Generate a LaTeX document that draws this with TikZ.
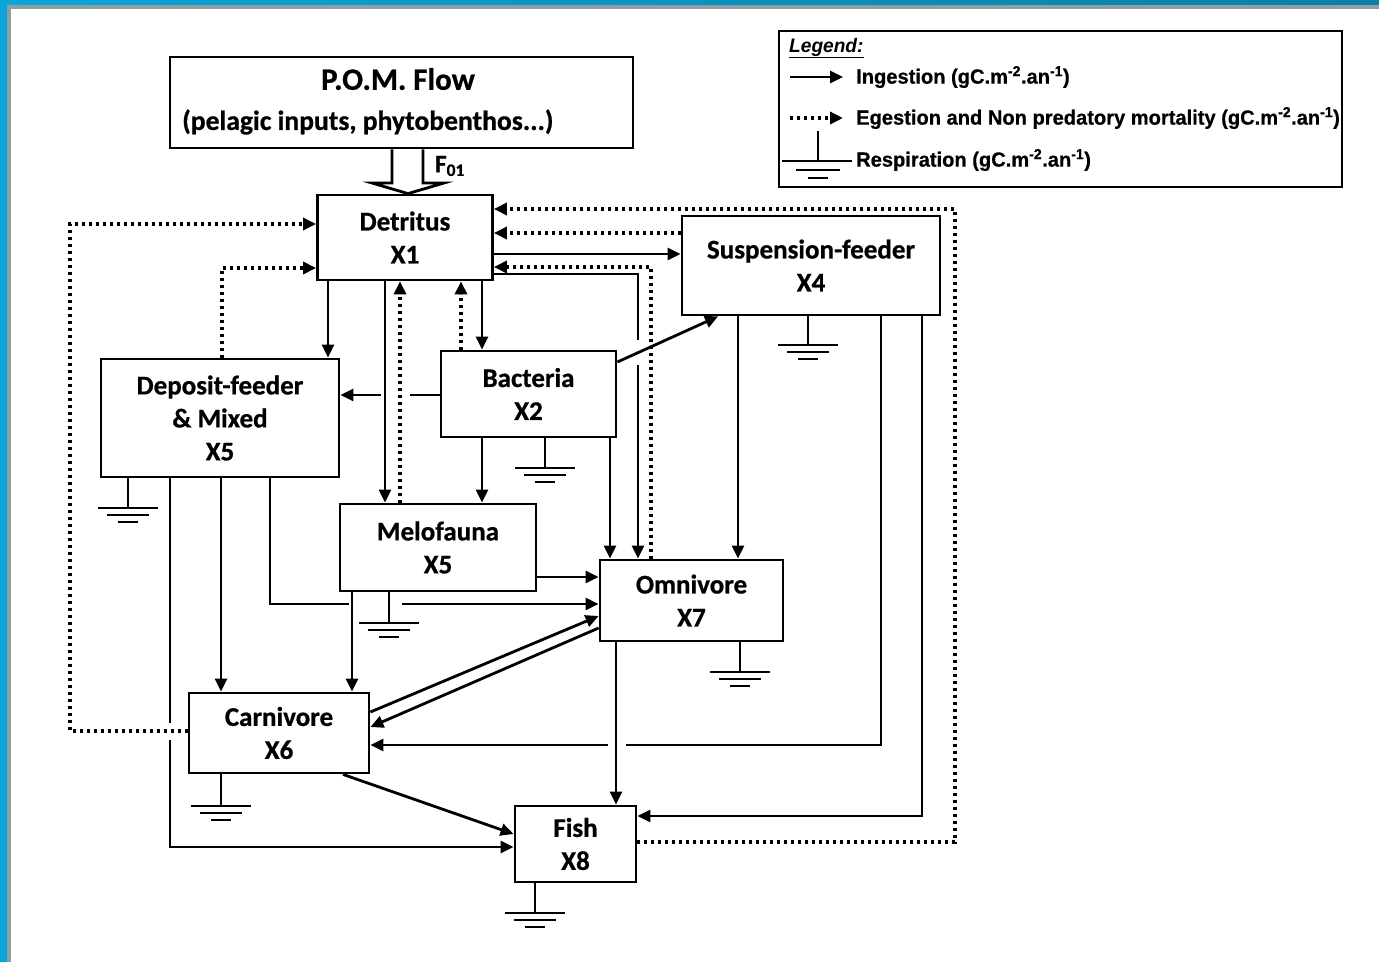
\documentclass[tikz,border=0pt]{standalone}
\usepackage{fontspec}
\setmainfont{Carlito}[BoldFeatures={FakeBold=0.7}]
\newfontfamily\legfont{Liberation Sans}[FakeStretch=0.98, BoldFeatures={FakeBold=0.6}]
\usetikzlibrary{arrows.meta}
\definecolor{frameblue}{HTML}{0AA6D8}
\definecolor{framedark}{HTML}{0A7FA8}
\definecolor{framegray}{HTML}{8E9EA3}
\begin{document}
\begin{tikzpicture}[x=1pt,y=-1pt,
 box/.style={draw, line width=2.8pt, inner sep=0pt, align=center, font=\fontsize{27}{33}\selectfont\bfseries},
 ing/.style={draw, line width=2.8pt, -{Triangle[length=13pt,width=12pt]}},
 egs/.style={draw, line width=3.3pt, dash pattern=on 3pt off 4pt, -{Triangle[length=13pt,width=12pt]}},
 legtxt/.style={anchor=west, inner sep=0pt, font=\legfont\bfseries\fontsize{20.5}{22}\selectfont},
 gnd/.pic={\draw[line width=2.8pt] (-30,0)--(30,0) (-21,7)--(21,7) (-10,14)--(10,14);}
]
\useasboundingbox (0,0) rectangle (1379,962);
% frame
\shade[left color=frameblue, right color=framedark] (0,0) rectangle (1379,8);
\fill[frameblue] (0,0) rectangle (8,962);
\fill[framegray] (7,5) rectangle (1379,962);
\fill[white] (11,9) rectangle (1379,962);

% boxes
\node[box, minimum width=463pt, minimum height=91pt] (pom) at (401.5,102.5) {};
\node[font=\fontsize{31}{31}\selectfont\bfseries] (pomt) at (398,79) {P.O.M. Flow};
\node[anchor=west, inner sep=0pt, font=\fontsize{27.6}{28}\selectfont\bfseries] (poms) at (182,122) {(pelagic inputs, phytobenthos...)};
\node[box, minimum width=175pt, minimum height=85pt] (det) at (405,237.5) {Detritus\\X1};
\node[box, minimum width=258pt, minimum height=99pt] (sus) at (811,265.5) {Suspension-feeder\\X4};
\node[box, minimum width=175pt, minimum height=86pt] (bac) at (528.5,394) {Bacteria\\X2};
\node[box, minimum width=238pt, minimum height=118pt] (dep) at (220,418) {Deposit-feeder\\\& Mixed\\X5};
\node[box, minimum width=196pt, minimum height=87pt] (mei) at (438,547.5) {Melofauna\\X5};
\node[box, minimum width=183pt, minimum height=81pt] (omn) at (691.5,600.5) {Omnivore\\X7};
\node[box, minimum width=180pt, minimum height=80pt] (car) at (279,733) {Carnivore\\X6};
\node[box, minimum width=121pt, minimum height=76pt] (fish) at (575.5,844) {Fish\\X8};

% POM flow
\draw[line width=2.8pt, fill=white] (pom.south -| 392,0) -- (392,183) -- (372,183) -- (det.north -| 408,0) -- (444,183) -- (423,183) -- (pom.south -| 423,0);
\node[font=\fontsize{25}{25}\selectfont\bfseries] (flab) at (450,166) {F\textsubscript{01}};

% Detritus links
\draw[ing] (det.south -| 328,0) -- (dep.north -| 328,0);
\draw[ing] (det.south -| 385,0) -- (mei.north -| 385,0);
\draw[egs] (mei.north -| 400,0) -- (det.south -| 400,0);
\draw[egs] (bac.north -| 461,0) -- (det.south -| 461,0);
\draw[ing] (det.south -| 482,0) -- (bac.north -| 482,0);
\draw[ing] (det.east |- 0,254) -- (sus.west |- 0,254);
\draw[egs] (sus.west |- 0,233) -- (det.east |- 0,233);
\draw[egs] (fish.east |- 0,842) -- (955,842) -- (955,209) -- (det.east |- 0,209);
\draw[egs] (omn.north -| 651,0) -- (651,267) -- (det.east |- 0,267);
\draw[ing] (det.east |- 0,274) -- (638,274) -- (638,340) (638,365) -- (omn.north -| 638,0);
\draw[egs] (car.west |- 0,731) -- (70,731) -- (70,224) -- (det.west |- 0,224);
\draw[egs] (dep.north -| 222,0) -- (222,268) -- (det.west |- 0,268);

% Bacteria links
\draw[ing] (bac.west |- 0,395) -- (410,395) (381,395) -- (dep.east |- 0,395);
\draw[ing] (bac.south -| 482,0) -- (mei.north -| 482,0);
\draw[ing] (bac.east |- 0,362) -- (sus.south -| 718,0);
\draw[ing] (bac.south -| 610,0) -- (omn.north -| 610,0);

% Suspension-feeder links
\draw[ing] (sus.south -| 738,0) -- (omn.north -| 738,0);
\draw[ing] (sus.south -| 881,0) -- (881,745) -- (626,745) (608,745) -- (car.east |- 0,745);
\draw[ing] (sus.south -| 922,0) -- (922,816) -- (fish.east |- 0,816);

% Meiofauna and deposit links
\draw[ing] (mei.east |- 0,577) -- (omn.west |- 0,577);
\draw[ing] (dep.south -| 270,0) -- (270,604) -- (349,604) (402,604) -- (omn.west |- 0,604);
\draw[ing] (mei.south -| 352,0) -- (car.north -| 352,0);
\draw[ing] (dep.south -| 221,0) -- (car.north -| 221,0);
\draw[ing] (dep.south -| 170,0) -- (170,723) (170,740) -- (170,847) -- (fish.west |- 0,847);

% Omnivore / carnivore / fish
\draw[ing] (car.east |- 0,712) -- (omn.west |- 0,616);
\draw[ing] (omn.west |- 0,628) -- (car.east |- 0,727);
\draw[ing] (car.south -| 343,0) -- (fish.west |- 0,834);
\draw[ing] (omn.south -| 616,0) -- (fish.north -| 616,0);

% respiration
\draw[line width=2.8pt] (sus.south -| 808,0) -- (808,345);  \pic at (808,345) {gnd};
\draw[line width=2.8pt] (bac.south -| 545,0) -- (545,468);  \pic at (545,468) {gnd};
\draw[line width=2.8pt] (dep.south -| 128,0) -- (128,508);  \pic at (128,508) {gnd};
\draw[line width=2.8pt] (mei.south -| 389,0) -- (389,623);  \pic at (389,623) {gnd};
\draw[line width=2.8pt] (omn.south -| 740,0) -- (740,672);  \pic at (740,672) {gnd};
\draw[line width=2.8pt] (car.south -| 221,0) -- (221,806);  \pic at (221,806) {gnd};
\draw[line width=2.8pt] (fish.south -| 535,0) -- (535,913); \pic at (535,913) {gnd};

% legend
\node[draw, line width=2.8pt, minimum width=563pt, minimum height=156pt] (leg) at (1060.5,109) {};
\node[anchor=west, inner sep=0pt, font=\legfont\bfseries\itshape\fontsize{19.5}{22}\selectfont] (legt) at (789,48) {\underline{Legend:}};
\coordinate (la1) at (790,77);  \coordinate (lb1) at (843,77);
\coordinate (la2) at (790,118); \coordinate (lb2) at (843,118);
\draw[ing] (la1) -- (lb1);
\draw[egs] (la2) -- (lb2);
\coordinate (lg) at (818,161);
\draw[line width=2.8pt] (818,131) -- (lg);
\draw[line width=2.8pt] (782,161) -- (852,161) (796,170) -- (840,170) (808,178) -- (828,178);
\node[legtxt] (li) at (856,77) {Ingestion (gC.m\textsuperscript{-2}.an\textsuperscript{-1})};
\node[legtxt] (le) at (856,118) {Egestion and Non predatory mortality (gC.m\textsuperscript{-2}.an\textsuperscript{-1})};
\node[legtxt] (lr) at (856,160) {Respiration (gC.m\textsuperscript{-2}.an\textsuperscript{-1})};
\end{tikzpicture}
\end{document}
